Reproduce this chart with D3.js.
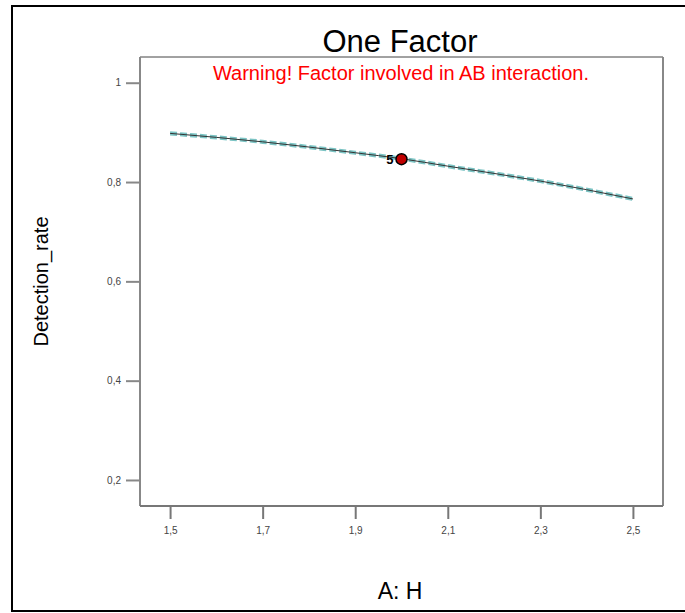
<!DOCTYPE html>
<html><head><meta charset="utf-8">
<script src="https://cdn.jsdelivr.net/npm/d3@7"></script>
<style>body{margin:0;background:#fff;}svg{display:block;font-family:"Liberation Sans",Arial,sans-serif;}</style>
</head><body><svg id="c" width="685" height="613"></svg>
<script>
// Data
const xTicks = [1.5, 1.7, 1.9, 2.1, 2.3, 2.5];
const yTicks = [0.2, 0.4, 0.6, 0.8, 1.0];
const curveX = [1.5, 1.7, 1.9, 2.0, 2.1, 2.3, 2.5];
const curveY = [0.898, 0.881, 0.859, 0.847, 0.832, 0.802, 0.766];
const lowerCI = [0.896, 0.879, 0.857, 0.845, 0.830, 0.800, 0.764];
const upperCI = [0.900, 0.883, 0.861, 0.849, 0.834, 0.804, 0.768];
const designX = [2.0];
const designY = [0.846];
const designLabel = ["5"];
const title = "One Factor";
const warning = "Warning! Factor involved in AB interaction.";
const xLabel = "A: H";
const yLabel = "Detection_rate";

const svg = d3.select("#c");
const L = 140, R = 663, T = 57, B = 506;
const x = d3.scaleLinear().domain([1.435, 2.565]).range([L, R]);
const y = d3.scaleLinear().domain([0.1476, 1.0518]).range([B, T]);
const loc = d3.formatLocale({decimal: ",", thousands: ".", grouping: [3], currency: ["", ""]});
const fmt = loc.format(".1~f");

// outer frame
svg.append("rect").attr("x", 12).attr("y", 6).attr("width", 700).attr("height", 605)
  .attr("fill", "none").attr("stroke", "#000").attr("stroke-width", 2);

// plot box
svg.append("line").attr("x1", L).attr("x2", R).attr("y1", T).attr("y2", T).attr("stroke", "#444").attr("stroke-width", 1);
svg.append("line").attr("x1", R).attr("x2", R).attr("y1", T).attr("y2", B).attr("stroke", "#888").attr("stroke-width", 2);

// axes
const yAxis = d3.axisLeft(y).tickValues(yTicks).tickFormat(fmt).tickSize(14).tickPadding(5);
const gy = svg.append("g").attr("transform", `translate(${L},0)`).call(yAxis);
gy.select(".domain").attr("stroke", "#888").attr("stroke-width", 2).attr("d", `M0,${T}V${B}`);
gy.selectAll(".tick line").attr("stroke", "#888").attr("stroke-width", 2);
gy.selectAll(".tick text").attr("font-size", 10).attr("fill", "#444").attr("font-family", "Liberation Sans, Arial");

const xAxis = d3.axisBottom(x).tickValues(xTicks).tickFormat(fmt).tickSize(13).tickPadding(8);
const gx = svg.append("g").attr("transform", `translate(0,${B})`).call(xAxis);
gx.select(".domain").attr("stroke", "#777").attr("stroke-width", 2).attr("d", `M${L},0H${R}`);
gx.selectAll(".tick line").attr("stroke", "#777").attr("stroke-width", 2);
gx.selectAll(".tick text").attr("font-size", 10).attr("fill", "#444").attr("font-family", "Liberation Sans, Arial");

// curves
const line = d3.line().x(d => x(d[0])).y(d => y(d[1])).curve(d3.curveMonotoneX);
const ptsL = curveX.map((v, i) => [v, lowerCI[i]]);
const ptsU = curveX.map((v, i) => [v, upperCI[i]]);
const ptsC = curveX.map((v, i) => [v, curveY[i]]);
[ptsL, ptsU].forEach(p => svg.append("path").attr("d", line(p)).attr("fill", "none")
  .attr("stroke", "#7cc4c4").attr("stroke-width", 2.2).attr("stroke-dasharray", "7,3"));
svg.append("path").attr("d", line(ptsC)).attr("fill", "none").attr("stroke", "#333").attr("stroke-width", 1);

// design points
designX.forEach((dx, i) => {
  svg.append("circle").attr("cx", x(dx)).attr("cy", y(designY[i])).attr("r", 5.5)
    .attr("fill", "#c00000").attr("stroke", "#000").attr("stroke-width", 1.5);
  svg.append("text").attr("x", x(dx) - 8).attr("y", y(designY[i]) + 5).attr("text-anchor", "end")
    .attr("font-size", 13).attr("font-weight", "bold").attr("fill", "#000").text(designLabel[i]);
});

// texts
svg.append("text").attr("x", 400).attr("y", 52).attr("text-anchor", "middle").attr("font-size", 31).attr("fill", "#000").text(title);
svg.append("text").attr("x", 401).attr("y", 80).attr("text-anchor", "middle").attr("font-size", 20).attr("fill", "#f00").text(warning);
svg.append("text").attr("x", 400).attr("y", 599).attr("text-anchor", "middle").attr("font-size", 23).attr("fill", "#000").text(xLabel);
svg.append("text").attr("transform", `translate(48,${(T + B) / 2}) rotate(-90)`).attr("text-anchor", "middle").attr("font-size", 20).attr("fill", "#000").text(yLabel);
</script></body></html>
